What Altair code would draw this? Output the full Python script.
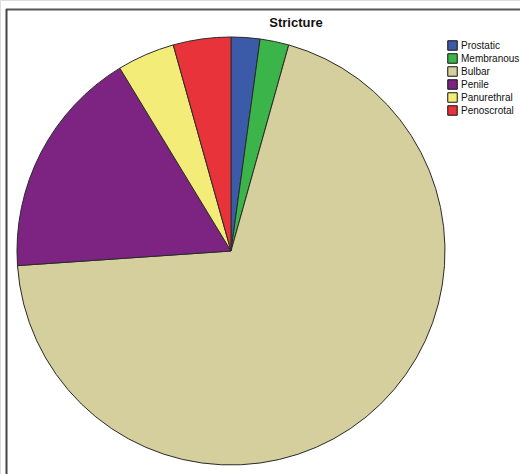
import altair as alt
import pandas as pd

categories = ["Prostatic", "Membranous", "Bulbar", "Penile", "Panurethral", "Penoscrotal"]
counts = [1, 1, 32, 8, 2, 2]
colors = ["#3B5BA9", "#3BB54A", "#D4CF9C", "#7D2482", "#F3EC79", "#E9333A"]

df = pd.DataFrame({"Stricture": categories, "count": counts, "order": list(range(len(categories)))})

pie = alt.Chart(df).mark_arc(radius=214, stroke="#2a2a2a", strokeWidth=1).encode(
    theta=alt.Theta("count:Q", stack=True),
    order=alt.Order("order:Q"),
    color=alt.Color(
        "Stricture:N",
        sort=categories,
        scale=alt.Scale(domain=categories, range=colors),
        legend=alt.Legend(
            title=None,
            orient="none",
            legendX=447,
            legendY=40,
            symbolType="square",
            symbolSize=90,
            symbolStrokeColor="#111",
            symbolStrokeWidth=1,
            symbolOpacity=1,
            labelFont="Liberation Sans",
            labelFontSize=10,
            labelColor="#111",
            labelOffset=3,
            rowPadding=-3.2,
        ),
    ),
    x=alt.value(231),
    y=alt.value(251),
)

title = alt.Chart(pd.DataFrame({"t": ["Stricture"]})).mark_text(
    font="Liberation Sans", fontSize=13, fontWeight="bold", color="#111", align="center", baseline="middle"
).encode(text="t:N", x=alt.value(296), y=alt.value(23))

top_line = alt.Chart(pd.DataFrame({"a": [0]})).mark_rule(color="#555", strokeWidth=2).encode(
    x=alt.value(6), x2=alt.value(520), y=alt.value(9.5)
)
left_line = alt.Chart(pd.DataFrame({"a": [0]})).mark_rule(color="#444", strokeWidth=2).encode(
    x=alt.value(6.5), y=alt.value(9), y2=alt.value(474)
)

chart = alt.layer(top_line, left_line, pie, title).properties(
    width=520, height=474, autosize=alt.AutoSizeParams(type="none"), padding=0
).configure_view(stroke=None).configure(background="white")

chart.save("out.html", embed_options={"renderer": "svg", "actions": False})
